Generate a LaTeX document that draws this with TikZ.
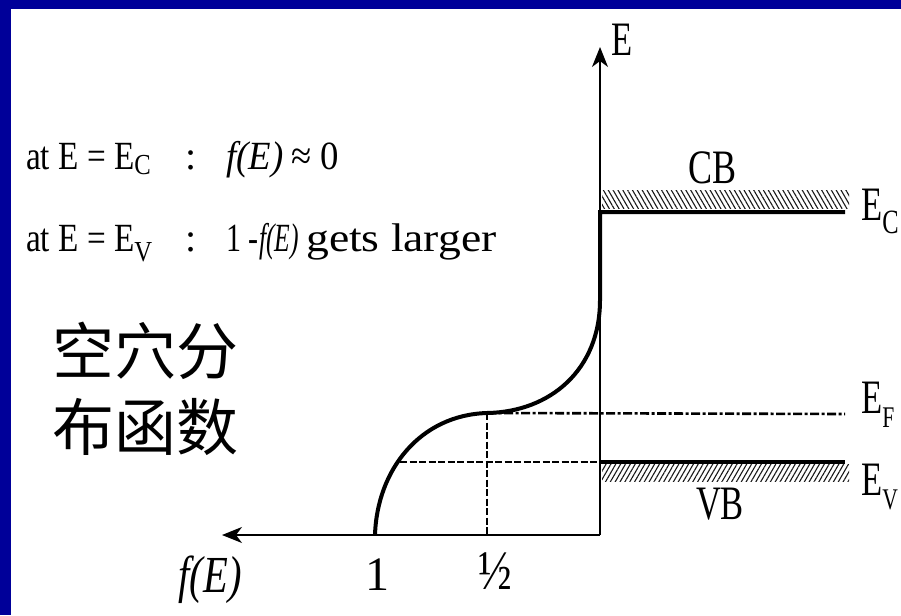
\documentclass[tikz,border=0pt]{standalone}
\usepackage{graphicx}
\usepackage{fontspec}
\setmainfont{Liberation Serif}
\newfontfamily\cjkfont{Noto Sans CJK SC}
\usetikzlibrary{arrows.meta,patterns.meta}
\definecolor{frameblue}{RGB}{0,0,153}
\newcommand\hsc[2]{\scalebox{#1}[1]{#2}}
\begin{document}
\begin{tikzpicture}[x=1pt,y=-1pt,
  lab/.style={inner sep=0pt, font=\fontsize{48}{48}\selectfont},
  txt/.style={inner sep=0pt, anchor=base west, font=\fontsize{40}{40}\selectfont},
  band/.style={line width=4pt, line cap=butt},
  axisln/.style={line width=1.2pt, -{Stealth[length=20pt,width=16pt,inset=6pt]}},
  efline/.style={line width=2.6pt, dash pattern=on 9pt off 2.5pt on 3pt off 2.5pt},
  dashln/.style={line width=2.2pt, dash pattern=on 7pt off 2.5pt},
  hatchcb/.style={pattern={Lines[angle=-60,distance=4.2pt,line width=1.1pt]}, pattern color=black!90},
  hatchvb/.style={pattern={Lines[angle=60,distance=4.2pt,line width=1.1pt]}, pattern color=black!90}]
\useasboundingbox (0,0) rectangle (901,615);
\fill[white] (0,0) rectangle (901,615);
\fill[frameblue] (0,0) rectangle (901,9);
\fill[frameblue] (0,0) rectangle (11,615);

% coordinates
\coordinate (O) at (600,535);
\coordinate (Etip) at (600,47);
\coordinate (Ftip) at (222,535);
\coordinate (ECl) at (600,212);
\coordinate (ECr) at (845,212);
\coordinate (EVl) at (600,462);
\coordinate (EVr) at (845,462);
\coordinate (EVc) at (400,462);
\coordinate (EFm) at (487,413);
\coordinate (EFr) at (845,414);
\coordinate (Hb) at (487,535);
\coordinate (C0) at (375,535);
\coordinate (C2) at (600,300);

% hatched bands
\fill[hatchcb] (602,190) rectangle (849,208);
\fill[hatchvb] (602,464) rectangle (849,481);

% level lines
\draw[efline] (EFm) -- (EFr);
\draw[dashln] (EVc) -- (EVl);
\draw[dashln] (EFm) -- (Hb);
\draw[band] (EVl) -- (EVr);

% axes
\draw[axisln] (O) -- (Etip);
\draw[axisln] (O) -- (Ftip);

% distribution curve
\draw[line width=4pt, line join=miter]
  (C0) .. controls (377,470) and (420,415) .. (EFm)
       .. controls (550,412) and (600,370) .. (C2)
  -- (ECl) -- (ECr);

% right labels
\node[lab] (axE) at (622,40) {\hsc{0.72}{E}};
\node[lab] (cb) at (712,168) {\hsc{0.75}{CB}};
\node[lab] (vb) at (720,504) {\hsc{0.72}{VB}};
\node[lab, anchor=base west] (ec) at (861,220) {\hsc{0.72}{E}\raisebox{-13pt}{\fontsize{34}{34}\selectfont\hsc{0.72}{C}}};
\node[lab, anchor=base west] (ef) at (861,413) {\hsc{0.72}{E}\raisebox{-14pt}{\fontsize{30}{30}\selectfont\hsc{0.72}{F}}};
\node[lab, anchor=base west] (ev) at (861,495) {\hsc{0.72}{E}\raisebox{-14pt}{\fontsize{30}{30}\selectfont\hsc{0.72}{V}}};

% horizontal axis labels
\node[lab, anchor=base] (fe) at (210,592) {\fontsize{52}{52}\selectfont\hsc{0.78}{\itshape f(E)}};
\node[lab, anchor=base] (one) at (377,590) {1};
\node[lab] (half) at (495,571) {\fontsize{56}{56}\selectfont\hsc{0.8}{½}};

% left text
\node[txt] (l1a) at (26,169) {\hsc{0.83}{at E = E}\raisebox{-5pt}{\fontsize{29}{29}\selectfont\hsc{0.85}{C}}};
\node[txt, anchor=base] (l1c) at (191,169) {:};
\node[txt] (l1f) at (226,169) {\hsc{0.92}{\itshape f(E)}};
\node[txt] (l1b) at (291,169) {\hsc{0.92}{≈ 0}};
\node[txt] (l2a) at (26,251) {\hsc{0.83}{at E = E}\raisebox{-10pt}{\fontsize{29}{29}\selectfont\hsc{0.85}{V}}};
\node[txt, anchor=base] (l2c) at (191,251) {:};
\node[txt] (l2b) at (226,251) {\hsc{0.75}{1 -}};
\node[txt] (l2f) at (259,251) {\hsc{0.64}{\itshape f(E)}};
\node[txt] (l2g) at (306,251) {\hsc{1.14}{gets larger}};

% Chinese caption
\node[inner sep=0pt, font=\cjkfont\fontsize{62}{62}\selectfont] (zh1) at (145,351) {空穴分};
\node[inner sep=0pt, font=\cjkfont\fontsize{62}{62}\selectfont] (zh2) at (145,427) {布函数};
\end{tikzpicture}
\end{document}
